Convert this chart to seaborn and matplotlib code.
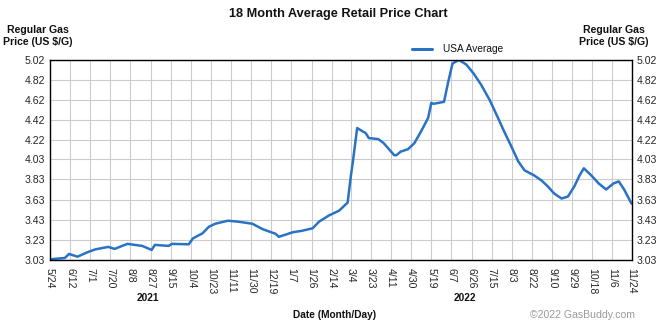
import matplotlib
matplotlib.use("Agg")
import matplotlib.pyplot as plt
import seaborn as sns
import pandas as pd

# ---- data ----
dates = [
    "2021-05-24", "2021-06-07", "2021-06-11", "2021-06-19", "2021-06-29", "2021-07-06",
    "2021-07-18", "2021-07-24", "2021-08-05", "2021-08-19", "2021-08-28", "2021-08-31",
    "2021-09-13", "2021-09-16", "2021-10-02", "2021-10-06", "2021-10-15", "2021-10-21",
    "2021-10-27", "2021-11-08", "2021-11-18", "2021-12-01", "2021-12-11", "2021-12-23",
    "2021-12-26", "2022-01-01", "2022-01-08", "2022-01-17", "2022-01-27", "2022-02-02",
    "2022-02-11", "2022-02-21", "2022-03-01", "2022-03-04", "2022-03-06", "2022-03-10",
    "2022-03-13", "2022-03-18", "2022-03-21", "2022-03-30", "2022-04-04", "2022-04-14",
    "2022-04-16", "2022-04-20", "2022-04-27", "2022-05-03", "2022-05-09", "2022-05-16",
    "2022-05-19", "2022-05-21", "2022-05-31", "2022-06-04", "2022-06-08", "2022-06-14",
    "2022-06-21", "2022-06-28", "2022-07-05", "2022-07-13", "2022-07-21", "2022-07-27",
    "2022-08-02", "2022-08-09", "2022-08-15", "2022-08-24", "2022-08-31", "2022-09-06",
    "2022-09-12", "2022-09-19", "2022-09-25", "2022-10-01", "2022-10-06", "2022-10-10",
    "2022-10-17", "2022-10-24", "2022-10-31", "2022-11-07", "2022-11-12", "2022-11-17",
    "2022-11-24",
]
prices = [
    3.037, 3.05, 3.09, 3.063, 3.11, 3.136,
    3.16, 3.14, 3.19, 3.17, 3.13, 3.18,
    3.17, 3.19, 3.186, 3.245, 3.295, 3.36,
    3.39, 3.42, 3.41, 3.39, 3.335, 3.29,
    3.26, 3.28, 3.305, 3.32, 3.345, 3.41,
    3.47, 3.52, 3.60, 3.86, 4.01, 4.34,
    4.32, 4.29, 4.24, 4.23, 4.19, 4.07,
    4.07, 4.105, 4.13, 4.19, 4.30, 4.44,
    4.59, 4.58, 4.60, 4.80, 4.98, 5.016,
    4.97, 4.88, 4.77, 4.62, 4.44, 4.30,
    4.17, 4.01, 3.92, 3.87, 3.82, 3.76,
    3.69, 3.64, 3.66, 3.76, 3.87, 3.94,
    3.87, 3.79, 3.73, 3.79, 3.81, 3.73,
    3.59,
]
tick_dates = [
    "2021-05-24", "2021-06-12", "2021-07-01", "2021-07-20", "2021-08-08", "2021-08-27",
    "2021-09-15", "2021-10-04", "2021-10-23", "2021-11-11", "2021-11-30", "2021-12-19",
    "2022-01-07", "2022-01-26", "2022-02-14", "2022-03-04", "2022-03-23", "2022-04-11",
    "2022-04-30", "2022-05-19", "2022-06-07", "2022-06-26", "2022-07-15", "2022-08-03",
    "2022-08-22", "2022-09-10", "2022-09-29", "2022-10-18", "2022-11-06", "2022-11-24",
]
y_ticks = [3.03, 3.23, 3.43, 3.63, 3.83, 4.03, 4.22, 4.42, 4.62, 4.82, 5.02]
series_name = "USA Average"

df = pd.DataFrame({"date": pd.to_datetime(dates), "price": prices, "series": series_name})
ticks = pd.to_datetime(tick_dates)
tick_labels = [f"{d.month}/{d.day}" for d in ticks]

sns.set_theme(style="white")
plt.rcParams["font.family"] = ["Liberation Sans", "DejaVu Sans"]

W, H = 668, 324
fig = plt.figure(figsize=(W / 100, H / 100), dpi=100)
ax = fig.add_axes([50 / W, (H - 260) / H, (631.5 - 50) / W, (260 - 59.5) / H])

line_color = "#2a72c6"
sns.lineplot(data=df, x="date", y="price", ax=ax, color=line_color, linewidth=1.8,
             legend=False)

ax.set_xlim(ticks[0], ticks[-1])
ax.set_ylim(y_ticks[0], y_ticks[-1])
ax.set_xticks(ticks)
ax.set_xticklabels(tick_labels, rotation=270, fontsize=7.6)
ax.set_yticks(y_ticks)
ax.set_yticklabels([f"{v:.2f}" for v in y_ticks], fontsize=7.6)
ax.tick_params(axis="y", which="both", left=False, right=False, labelleft=True,
               labelright=True, length=0, pad=3.6)
ax.tick_params(axis="x", bottom=False, length=0, pad=5.5)
ax.grid(True, color="#cccccc", linewidth=0.8)
for s in ax.spines.values():
    s.set_color("black")
    s.set_linewidth(1.0)
ax.set_xlabel("")
ax.set_ylabel("")

bold = dict(fontweight="bold", color="#111111")
fig.text(338 / W, 1 - 14 / H, "18 Month Average Retail Price Chart", ha="center",
         va="center", fontsize=9.2, **bold)
for cx in (38, 614):
    fig.text(cx / W, 1 - 30 / H, "Regular Gas", ha="center", va="center", fontsize=7.6, **bold)
    fig.text(cx / W, 1 - 42 / H, "Price (US $/G)", ha="center", va="center", fontsize=7.6, **bold)

# legend
fig.lines.append(plt.Line2D([412 / W, 432 / W], [1 - 49 / H, 1 - 49 / H],
                            transform=fig.transFigure, color=line_color, linewidth=2.2))
fig.text(443 / W, 1 - 49.5 / H, series_name, ha="left", va="center", fontsize=7.3,
         color="#111111")

fig.text(148 / W, 1 - 298 / H, "2021", ha="center", va="center", fontsize=7.3, **bold)
fig.text(465 / W, 1 - 298 / H, "2022", ha="center", va="center", fontsize=7.3, **bold)
fig.text(335 / W, 1 - 315 / H, "Date (Month/Day)", ha="center", va="center", fontsize=7.3, **bold)
fig.text(583 / W, 1 - 315 / H, "©2022 GasBuddy.com", ha="center", va="center",
         fontsize=7.6, color="#9a9a9a")

fig.savefig("out.png", dpi=100)
